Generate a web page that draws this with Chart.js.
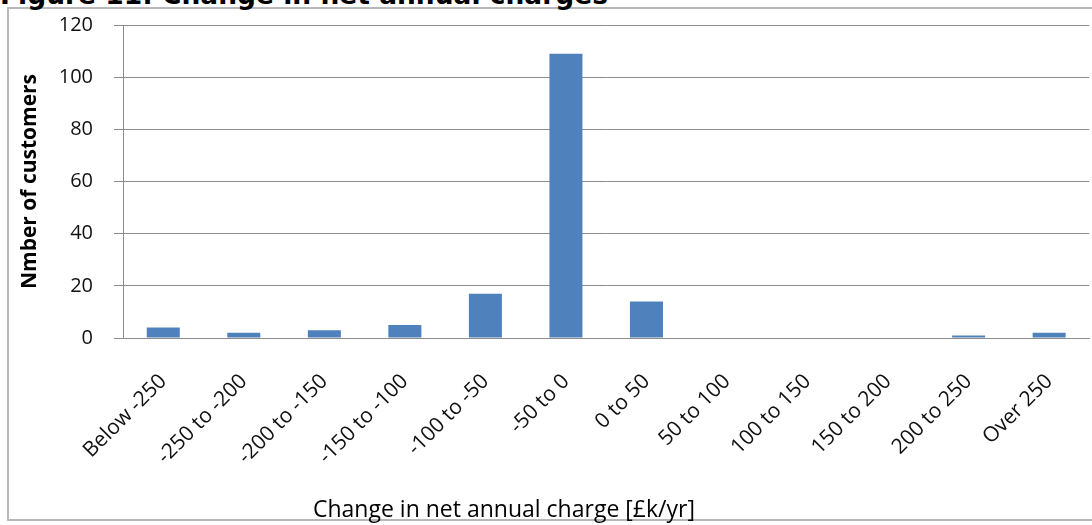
<!DOCTYPE html>
<html>
<head>
<meta charset="utf-8">
<script src="https://cdn.jsdelivr.net/npm/chart.js@4.4.0/dist/chart.umd.min.js"></script>
<style>
  html, body { margin: 0; padding: 0; background: #fff; overflow: hidden; }
  #wrap { position: relative; width: 1092px; height: 525px; overflow: hidden; }
  #frame { position: absolute; left: 7px; top: 7px; width: 1200px; height: 514px; border: 2px solid #b8b8b8; box-sizing: border-box; }
  #fig-title { position: absolute; left: 0; top: -18px; font: bold 26.5px "DejaVu Sans"; line-height: 26px; color: #000; white-space: nowrap; }
  #x-title { position: absolute; left: 313px; top: 495px; font: 23px "Open Sans"; line-height: 26px; color: #000; white-space: nowrap; }
  canvas { position: absolute; left: 0; top: 0; }
</style>
</head>
<body>
<div id="wrap">
  <div id="frame"></div>
  <div id="fig-title">Figure 11: Change in net annual charges</div>
  <canvas id="chart" width="1098" height="525"></canvas>
  <div id="x-title">Change in net annual charge [£k/yr]</div>
</div>
<script>
// bins and counts
const categories = ['Below -250', '-250 to -200', '-200 to -150', '-150 to -100', '-100 to -50', '-50 to 0',
                    '0 to 50', '50 to 100', '100 to 150', '150 to 200', '200 to 250', 'Over 250'];
const customers = [4, 2, 3, 5, 17, 109, 14, 0, 0, 0, 1, 2];
const yTicks = [0, 20, 40, 60, 80, 100, 120];

const ctx = document.getElementById('chart').getContext('2d');

const chart = new Chart(ctx, {
    type: 'bar',
    data: {
        labels: categories,
        datasets: [{
            data: customers,
            backgroundColor: '#4f81bd',
            barPercentage: 0.41,
            categoryPercentage: 1
        }]
    },
    options: {
        responsive: false,
        animation: false,
        layout: {
            padding: { left: 0, top: 25, right: 1, bottom: 0 }
        },
        plugins: {
            legend: { display: false },
            tooltip: { enabled: false }
        },
        scales: {
            x: {
                grid: { display: false, drawTicks: false },
                border: { display: true, color: '#8c8c8c', width: 1 },
                ticks: {
                    color: '#111',
                    font: { family: 'Open Sans', size: 21 },
                    minRotation: 45,
                    maxRotation: 45,
                    padding: 31,
                    autoSkip: false
                },
                afterFit: scale => { scale.height = 187; }
            },
            y: {
                min: 0,
                max: 120,
                afterBuildTicks: scale => { scale.ticks = yTicks.map(v => ({ value: v })); },
                grid: { color: '#8c8c8c', tickLength: 9, lineWidth: 1 },
                border: { display: true, color: '#8c8c8c', width: 1 },
                ticks: {
                    color: '#111',
                    font: { family: 'Open Sans', size: 20 },
                    padding: 21
                },
                title: {
                    display: true,
                    text: 'Nmber of customers',
                    color: '#000',
                    font: { family: 'Open Sans', size: 21, weight: 'bold' },
                    padding: { top: 17, bottom: 0 }
                },
                afterFit: scale => {
                    scale.width = 123;
                    scale.paddingTop = 0;
                    scale.paddingBottom = 0;
                }
            }
        }
    }
});
</script>
</body>
</html>
